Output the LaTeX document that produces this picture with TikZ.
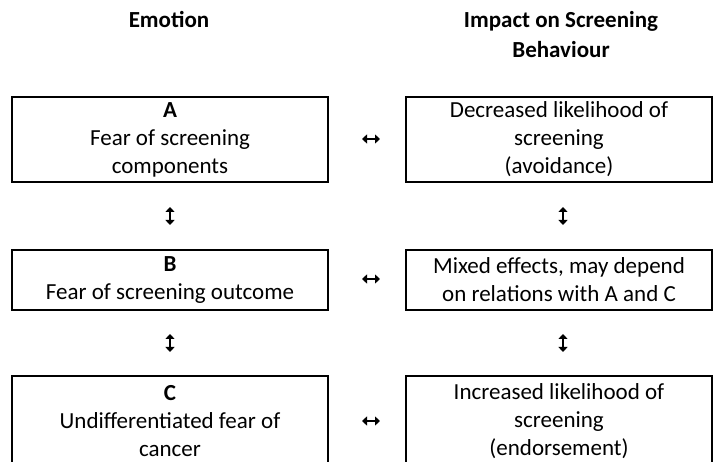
\documentclass[tikz,border=0pt]{standalone}
\usepackage{fontspec}
\setmainfont{Carlito}
\usepackage{xcolor}
\usepackage{tikz}
\usetikzlibrary{arrows.meta}

\begin{document}
\begin{tikzpicture}[x=1pt,y=-1pt,font=\fontsize{23}{28}\selectfont,
  box/.style={draw=black,line width=1.6pt,align=center,inner sep=0pt},
  emobox/.style={box,minimum width=316pt},
  impbox/.style={box,minimum width=306pt},
  head/.style={font=\fontsize{23}{30}\selectfont\bfseries,align=center,anchor=base},
  dblarr/.style={{Triangle[width=9pt,length=5pt]}-{Triangle[width=9pt,length=5pt]},line width=2pt}]
  \useasboundingbox (0,0) rectangle (713,462);
  \clip (0,0) rectangle (713,462);

  % Column headings (base = last line)
  \node[head] (hdEmo) at (169,28) {Emotion};
  \node[head] (hdImp) at (561,58) {Impact on Screening\\Behaviour};

  % Row A
  \node[emobox,minimum height=85pt] (emoA) at (170,139.5)
    {\textbf{A}\\Fear of screening\\components};
  \node[impbox,minimum height=85pt] (impA) at (559,139.5)
    {Decreased likelihood of\\screening\\(avoidance)};

  % Row B
  \node[emobox,minimum height=60pt] (emoB) at (170,280)
    {\textbf{B}\\Fear of screening outcome};
  \node[impbox,minimum height=60pt] (impB) at (559,280)
    {Mixed effects, may depend\\on relations with A and C};

  % Row C (runs off the bottom edge)
  \node[emobox,minimum height=90pt] (emoC) at (170,421)
    {\textbf{C}\\Undifferentiated fear of\\cancer};
  \node[impbox,minimum height=90pt] (impC) at (559,421)
    {Increased likelihood of\\screening\\(endorsement)};

  % Arrow ends
  \coordinate (abL1) at (170,207); \coordinate (abL2) at (170,225);
  \coordinate (abR1) at (563,207); \coordinate (abR2) at (563,225);
  \coordinate (bcL1) at (170,334); \coordinate (bcL2) at (170,352);
  \coordinate (bcR1) at (563,334); \coordinate (bcR2) at (563,352);
  \coordinate (hA1) at (362,139); \coordinate (hA2) at (380,139);
  \coordinate (hB1) at (362,279); \coordinate (hB2) at (380,279);
  \coordinate (hC1) at (362,421); \coordinate (hC2) at (380,421);

  % Two-way arrows
  \draw[dblarr] (hA1) -- (hA2);
  \draw[dblarr] (hB1) -- (hB2);
  \draw[dblarr] (hC1) -- (hC2);
  \draw[dblarr] (abL1) -- (abL2);
  \draw[dblarr] (abR1) -- (abR2);
  \draw[dblarr] (bcL1) -- (bcL2);
  \draw[dblarr] (bcR1) -- (bcR2);
\end{tikzpicture}
\end{document}
